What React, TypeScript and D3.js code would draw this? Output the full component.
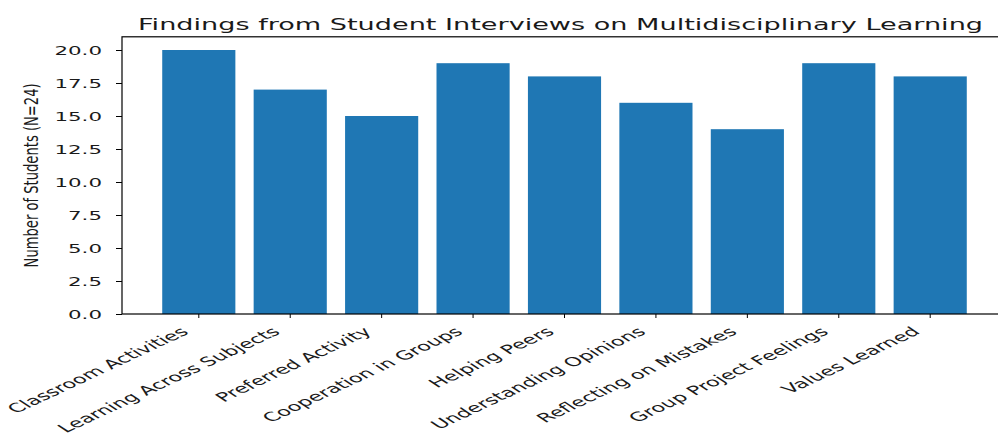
import React, { useEffect, useRef } from 'react';
import * as d3 from 'd3';

const categories = [
  'Classroom Activities',
  'Learning Across Subjects',
  'Preferred Activity',
  'Cooperation in Groups',
  'Helping Peers',
  'Understanding Opinions',
  'Reflecting on Mistakes',
  'Group Project Feelings',
  'Values Learned',
];
const counts = [20, 17, 15, 19, 18, 16, 14, 19, 18];
const yTicks = [0, 2.5, 5, 7.5, 10, 12.5, 15, 17.5, 20];

const chartTitle = 'Findings from Student Interviews on Multidisciplinary Learning';
const yLabel = 'Number of Students (N=24)';

const App: React.FC = () => {
  const svgRef = useRef<SVGSVGElement>(null);
  const width = 998;
  const height = 434;

  useEffect(() => {
    if (!svgRef.current) return;
    const svg = d3.select(svgRef.current);
    svg.selectAll('*').remove();

    // the picture is stretched sideways, so text is too
    const SX = 1.78;
    const font = 'DejaVu Sans, sans-serif';
    const textColor = '#1a1a1a';

    const margin = { top: 36.8, left: 122, right: 1007, bottom: 314 };

    const xScale = d3.scaleBand<string>()
      .domain(categories)
      .range([margin.left, margin.right])
      .paddingInner(0.2)
      .paddingOuter(0.44);

    const yScale = d3.scaleLinear()
      .domain([0, 21])
      .range([margin.bottom, margin.top]);

    // Bars
    svg.append('g')
      .selectAll('rect')
      .data(counts)
      .join('rect')
      .attr('x', (_, i) => xScale(categories[i])!)
      .attr('y', d => yScale(d))
      .attr('width', xScale.bandwidth())
      .attr('height', d => yScale(0) - yScale(d))
      .attr('fill', '#1f77b4');

    // Frame
    svg.append('rect')
      .attr('x', margin.left)
      .attr('y', margin.top)
      .attr('width', margin.right - margin.left)
      .attr('height', margin.bottom - margin.top)
      .attr('fill', 'none')
      .attr('stroke', '#000')
      .attr('stroke-width', 1.2);

    // Y axis
    const yAxis = d3.axisLeft(yScale)
      .tickValues(yTicks)
      .tickSize(6)
      .tickFormat(d => d3.format('.1f')(d as number));
    const yG = svg.append('g')
      .attr('transform', `translate(${margin.left},0)`)
      .call(yAxis);
    yG.select('.domain').remove();
    yG.selectAll('line').attr('stroke', '#000');
    yG.selectAll('text')
      .attr('x', null)
      .attr('dy', '0.36em')
      .attr('transform', `translate(-20,0) scale(${SX},1)`)
      .attr('font-family', font)
      .attr('font-size', 12)
      .attr('fill', textColor);

    // X axis
    const xAxis = d3.axisBottom(xScale).tickSize(4).tickFormat(() => '');
    const xG = svg.append('g')
      .attr('transform', `translate(0,${margin.bottom})`)
      .call(xAxis);
    xG.select('.domain').remove();
    xG.selectAll('line').attr('stroke', '#000');

    // Rotated category labels
    categories.forEach(c => {
      const cx = xScale(c)! + xScale.bandwidth() / 2;
      svg.append('g')
        .attr('transform', `translate(${cx - 9},${margin.bottom + 19}) scale(1.8,1) rotate(-40)`)
        .append('text')
        .attr('text-anchor', 'end')
        .attr('font-family', font)
        .attr('font-size', 12.5)
        .attr('fill', textColor)
        .text(c);
    });

    // Y label
    svg.append('text')
      .attr('transform', `translate(38,${(margin.top + margin.bottom) / 2}) rotate(-90)`)
      .attr('text-anchor', 'middle')
      .attr('font-family', 'Liberation Sans Narrow, DejaVu Sans Condensed, sans-serif')
      .attr('font-size', 19)
      .attr('textLength', 184)
      .attr('lengthAdjust', 'spacingAndGlyphs')
      .attr('fill', textColor)
      .text(yLabel);

    // Title
    svg.append('text')
      .attr('x', 560.5)
      .attr('y', 29.5)
      .attr('text-anchor', 'middle')
      .attr('font-family', font)
      .attr('font-size', 15)
      .attr('textLength', 845)
      .attr('lengthAdjust', 'spacingAndGlyphs')
      .attr('fill', textColor)
      .text(chartTitle);
  }, []);

  return (
    <svg
      ref={svgRef}
      width={width}
      height={height}
      style={{ position: 'absolute', left: 0, top: 0, background: '#fff' }}
    />
  );
};

export default App;
